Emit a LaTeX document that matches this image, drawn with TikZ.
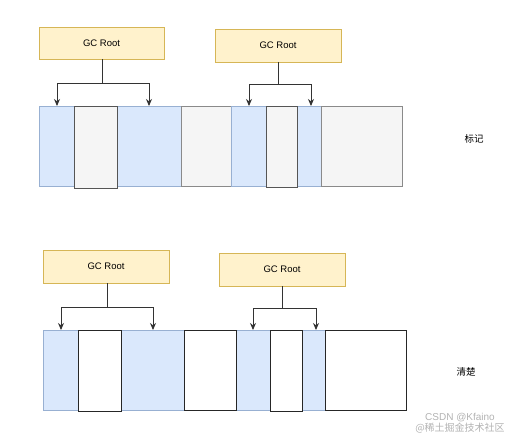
\documentclass[tikz,border=0pt]{standalone}
\usepackage{fontspec}
\setmainfont{Liberation Sans}
\newfontfamily\cjk{Noto Sans CJK SC}
\usetikzlibrary{arrows.meta}
\definecolor{rootfill}{HTML}{FFF2CC}
\definecolor{rootdraw}{HTML}{D6B656}
\definecolor{bluefill}{HTML}{DAE8FC}
\definecolor{bluedraw}{HTML}{6C8EBF}
\definecolor{grayfill}{HTML}{F5F5F5}
\definecolor{graydraw}{HTML}{8A8A8A}
\definecolor{objdraw}{HTML}{555555}
\definecolor{linec}{HTML}{333333}
\begin{document}
\begin{tikzpicture}[x=1pt,y=-1pt,
  rootbox/.style={draw=rootdraw,fill=rootfill,line width=0.6pt,inner sep=0pt,outer sep=0pt,
    anchor=north west,font=\fontsize{9.5}{10}\selectfont},
  cellbase/.style={inner sep=0pt,outer sep=0pt,anchor=north west,line width=0.7pt},
  cellblue/.style={cellbase,draw=bluedraw!70,fill=bluefill},
  cellgray/.style={cellbase,draw=graydraw,fill=grayfill},
  cellobj/.style={cellbase,draw=objdraw,fill=grayfill,line width=0.9pt},
  cellwhite/.style={cellbase,draw=black!85,fill=white,line width=0.9pt},
  stem/.style={draw=linec,line width=0.9pt},
  arr/.style={draw=linec,line width=0.9pt,-{Stealth[length=7pt,width=6pt]}},
  lbl/.style={font=\cjk\fontsize{9.5}{11}\selectfont},
  wm/.style={text=black!30,inner sep=0pt}
]
\useasboundingbox (0,0) rectangle (512,437);

% ---------- top: marking ----------
\node[rootbox,minimum width=125pt,minimum height=32pt] (ra) at (39,27) {GC Root};
\node[rootbox,minimum width=126pt,minimum height=33pt] (rb) at (215,29) {GC Root};

\node[cellblue,minimum width=35pt,minimum height=80pt] (a1) at (39,106) {};
\node[cellblue,minimum width=64pt,minimum height=80pt] (a3) at (117,106) {};
\node[cellgray,minimum width=50pt,minimum height=80pt] (a4) at (181,106) {};
\node[cellblue,minimum width=35pt,minimum height=80pt] (a5) at (231,106) {};
\node[cellblue,minimum width=24pt,minimum height=80pt] (a7) at (297,106) {};
\node[cellgray,minimum width=81pt,minimum height=80pt] (a8) at (321,106) {};
\node[cellobj,minimum width=43pt,minimum height=82pt] (a2) at (74,106) {};
\node[cellobj,minimum width=31pt,minimum height=81pt] (a6) at (266,106) {};

\coordinate (ja) at (102,83);
\coordinate (ta1) at (57,106);
\coordinate (ta2) at (149,106);
\draw[stem] (ra.south -| ja) -- (ja);
\draw[arr] (ja) -| (ta1);
\draw[arr] (ja) -| (ta2);

\coordinate (jb) at (278,84);
\coordinate (tb1) at (249,106);
\coordinate (tb2) at (311,106);
\draw[stem] (rb.south -| jb) -- (jb);
\draw[arr] (jb) -| (tb1);
\draw[arr] (jb) -| (tb2);

\node[lbl] (mark) at (474,139) {标记};

% ---------- bottom: sweeping ----------
\node[rootbox,minimum width=126pt,minimum height=33pt] (rc) at (43,250) {GC Root};
\node[rootbox,minimum width=126pt,minimum height=33pt] (rd) at (219,253) {GC Root};

\node[cellblue,minimum width=35pt,minimum height=80pt] (b1) at (43,330) {};
\node[cellblue,minimum width=63pt,minimum height=80pt] (b3) at (121,330) {};
\node[cellblue,minimum width=34pt,minimum height=80pt] (b5) at (236,330) {};
\node[cellblue,minimum width=23pt,minimum height=80pt] (b7) at (302,330) {};
\node[cellwhite,minimum width=43pt,minimum height=81pt] (b2) at (78,330) {};
\node[cellwhite,minimum width=52pt,minimum height=80pt] (b4) at (184,330) {};
\node[cellwhite,minimum width=32pt,minimum height=81pt] (b6) at (270,330) {};
\node[cellwhite,minimum width=81pt,minimum height=80pt] (b8) at (325,330) {};

\coordinate (jc) at (107,307);
\coordinate (tc1) at (61,330);
\coordinate (tc2) at (153,330);
\draw[stem] (rc.south -| jc) -- (jc);
\draw[arr] (jc) -| (tc1);
\draw[arr] (jc) -| (tc2);

\coordinate (jd) at (282,308);
\coordinate (td1) at (253,330);
\coordinate (td2) at (316,330);
\draw[stem] (rd.south -| jd) -- (jd);
\draw[arr] (jd) -| (td1);
\draw[arr] (jd) -| (td2);

\node[lbl] (sweep) at (466,372) {清楚};

% ---------- watermark ----------
\node[wm,font=\cjk\fontsize{10}{12}\selectfont] (wm1) at (460,428) {@稀土掘金技术社区};
\node[wm,font=\fontsize{10}{12}\selectfont] (wm2) at (460,418) {CSDN @Kfaino};
\end{tikzpicture}
\end{document}
